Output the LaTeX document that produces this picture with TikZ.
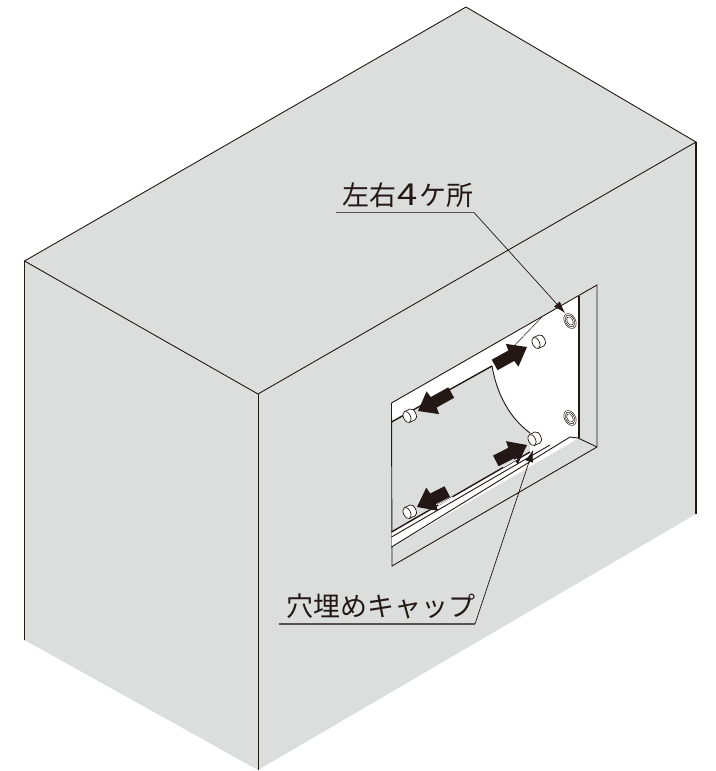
\documentclass[tikz,border=0pt]{standalone}
\usepackage{fontspec}
\newfontfamily\jpfont{Noto Sans CJK JP}
\usetikzlibrary{arrows.meta}
\definecolor{wallgray}{HTML}{DCDEDD}
\definecolor{inkdark}{HTML}{231815}
\begin{document}
\begin{tikzpicture}[x=1pt,y=-1pt,
  edge/.style={draw=inkdark,line width=0.9pt,line join=miter},
  thinedge/.style={draw=inkdark,line width=0.5pt},
  heavyedge/.style={draw=inkdark,line width=1.4pt},
  leader/.style={draw=inkdark,line width=0.7pt},
  underln/.style={draw=inkdark!75,line width=1.2pt},
  leadertip/.style={leader,-{Latex[length=12pt,width=8pt]}},
  lbl/.style={font=\jpfont\fontsize{27}{30}\selectfont,text=inkdark,inner sep=0pt,anchor=base west}]
\useasboundingbox (0,0) rectangle (715,771);

% box
\fill[wallgray] (24.5,261) -- (466,7) -- (696,142) -- (696,514) -- (258,770) -- (24.5,640) -- cycle;
\draw[edge] (24.5,640) -- (24.5,261) -- (466,7) -- (696,142) -- (258,394) -- (24.5,261);
\draw[heavyedge] (696,142) -- (696,514);
\draw[edge] (258,394) -- (258,770);

% opening
\fill[white] (391.5,403) -- (579,296) -- (579,438) -- (391.5,547) -- cycle;
\fill[wallgray] (391.5,422) -- (492,366) .. controls (497,395) and (510,418) .. (530,433)
  -- (530,452) -- (391.5,532) -- cycle;
\draw[edge] (391.5,403) -- (597,285) -- (597,447) -- (392,566) -- (391.5,403);
\draw[heavyedge] (579,296) -- (579,438);
\draw[edge] (492,366) .. controls (497,395) and (510,418) .. (530,433);
\draw[heavyedge] (391.5,422) -- (492,366);
\draw[thinedge] (542,317) -- (512,348);

% lip below the panel
\fill[white] (391.5,532) -- (530,452) -- (550,445) -- (391.5,537) -- cycle;
\fill[white] (391.5,537) -- (550,445) -- (570,435) -- (578,438) -- (391.5,547) -- cycle;
\draw[heavyedge] (391.5,532) -- (530,452);
\draw[edge] (391.5,537) -- (550,445);
\draw[edge] (391.5,547) -- (570,437) -- (578,438) -- (597,447);

% arrows
\foreach \ax/\ay/\arot/\alen in {527/347/29/37,418/411/209/38,527/445/27/35,417/507/207/34}{
  \begin{scope}[shift={(\ax,\ay)},rotate=\arot]
    \fill[inkdark] (0,0) -- (-17,-13) -- (-18,-6) -- (-\alen,-6) -- (-\alen,6) -- (-18,6) -- (-17,13) -- cycle;
  \end{scope}
}
\draw[white,line width=1pt] (503,467) -- (517,459);
\draw[white,line width=1pt] (438,505) -- (453,497);

% caps
\foreach \px/\py in {536/343,407/417,532/440,407/513}{
  \begin{scope}[shift={(\px,\py)},rotate=25]
    \draw[thinedge,line width=0.7pt,fill=white] (0,-6) -- (6,-6) arc[start angle=-90,end angle=90,x radius=3.5,y radius=6] -- (0,6);
    \draw[thinedge,line width=0.7pt,fill=white] (0,0) ellipse [x radius=3.5,y radius=6];
  \end{scope}
}
% holes
\foreach \hx/\hy in {570/321,570/418}{
  \begin{scope}[shift={(\hx,\hy)},rotate=30]
    \draw[thinedge,fill=white] (0,0) ellipse [x radius=5.5,y radius=8];
    \draw[thinedge] (0,0) ellipse [x radius=4.2,y radius=6.4];
    \draw[thinedge] (0,0) ellipse [x radius=2.8,y radius=4.6];
  \end{scope}
}

% labels
\node[lbl] (lblHole) at (342,205) {左右\hspace{1.5pt}\scalebox{1.35}[1.12]{4}\hspace{1.5pt}ケ所};
\node[lbl] (lblCap) at (286,616) {穴埋めキャップ};
\coordinate (holeU0) at (336,212.5);
\coordinate (holeU1) at (474,212.5);
\coordinate (holeTip) at (565,313);
\coordinate (capU0) at (279,624);
\coordinate (capU1) at (475,624);
\coordinate (capTip) at (533,450);
\draw[underln] (holeU0) -- (holeU1);
\draw[leadertip] (holeU1) -- (holeTip);
\draw[underln] (capU0) -- (capU1);
\draw[leadertip] (capU1) -- (capTip);
\end{tikzpicture}
\end{document}
